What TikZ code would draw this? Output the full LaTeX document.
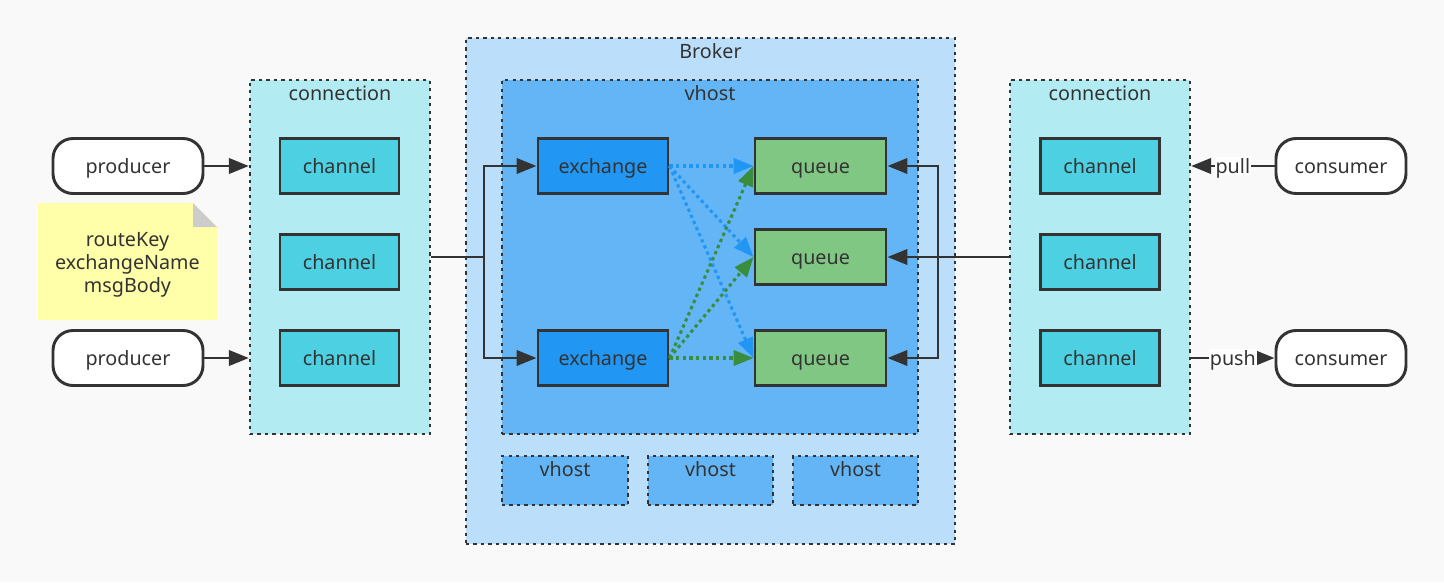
\documentclass[tikz,border=0pt]{standalone}
\usepackage{fontspec}
\setmainfont{Noto Sans}
\usetikzlibrary{arrows.meta,fit,calc}
\definecolor{bgc}{HTML}{F9F9F9}
\definecolor{dark}{HTML}{333333}
\definecolor{connc}{HTML}{B2EBF2}
\definecolor{chanc}{HTML}{4DD0E1}
\definecolor{brokc}{HTML}{BBDEFB}
\definecolor{vhostc}{HTML}{64B5F6}
\definecolor{exc}{HTML}{2196F3}
\definecolor{qc}{HTML}{81C784}
\definecolor{notec}{HTML}{FFFFAA}
\definecolor{foldc}{HTML}{CCCCCC}
\definecolor{greenc}{HTML}{388E3C}
\tikzset{
  container/.style={draw=dark, line width=1.7pt, dash pattern=on 2.4pt off 3.2pt, inner sep=0pt},
  boxbase/.style={draw=dark, line width=2.2pt, minimum height=41.25pt, inner sep=0pt, text height=1.2em, text depth=0.1em},
  chanbox/.style={boxbase, fill=chanc, minimum width=89.25pt},
  exbox/.style={boxbase, fill=exc, minimum width=97.5pt},
  qbox/.style={boxbase, fill=qc, minimum width=98.25pt},
  client/.style={boxbase, fill=white, rounded corners=15pt},
  ctitle/.style={anchor=base, inner sep=0pt},
  tip/.style={-{Triangle[length=15pt,width=11.5pt]}},
  arr/.style={draw=dark, line width=2.2pt, tip},
  dotblue/.style={draw=exc, line width=2.3pt, dash pattern=on 2.5pt off 2.5pt, tip},
  dotgreen/.style={draw=greenc, line width=2.3pt, dash pattern=on 2.5pt off 2.5pt, tip},
  elabel/.style={fill=white, inner sep=0.6pt, text height=1.2em, text depth=0.1em}
}
\begin{document}
\begin{tikzpicture}[x=0.75pt, y=-0.75pt, font=\fontsize{14.8}{17.25}\selectfont, text=dark]
\fill[bgc] (0,0) rectangle (1444,582);
\useasboundingbox (0,0) rectangle (1444,582);

% containers
\node[container, fill=connc, fit={(250,80) (430,434)}] (conn1) {};
\node[ctitle] (conn1t) at ([yshift=-16.3pt]conn1.north) {connection};
\node[container, fill=brokc, fit={(466,38) (955,544)}] (broker) {};
\node[ctitle] (brokert) at ([yshift=-16.3pt]broker.north) {Broker};
\node[container, fill=vhostc, fit={(502,80) (918,434)}] (vh) {};
\node[ctitle] (vht) at ([yshift=-16.3pt]vh.north) {vhost};
\node[container, fill=vhostc, fit={(502,456) (628,505)}] (vh1) {};
\node[ctitle] (vh1t) at ([yshift=-16.3pt]vh1.north) {vhost};
\node[container, fill=vhostc, fit={(648,456) (773,505)}] (vh2) {};
\node[ctitle] (vh2t) at ([yshift=-16.3pt]vh2.north) {vhost};
\node[container, fill=vhostc, fit={(793,456) (918,505)}] (vh3) {};
\node[ctitle] (vh3t) at ([yshift=-16.3pt]vh3.north) {vhost};
\node[container, fill=connc, fit={(1010,80) (1190,434)}] (conn2) {};
\node[ctitle] (conn2t) at ([yshift=-16.3pt]conn2.north) {connection};

% note
\fill[notec] (38,203) -- (193,203) -- (217,227) -- (217,320) -- (38,320) -- cycle;
\fill[foldc] (193,203) -- (217,227) -- (193,227) -- cycle;
\node[align=center, inner sep=0pt] (note) at (127.5,265) {routeKey\\exchangeName\\msgBody};

% clients
\node[client, minimum width=112.5pt] (p1) at (128,166) {producer};
\node[client, minimum width=112.5pt] (p2) at (128,358) {producer};
\node[client, minimum width=97.5pt] (c1) at (1341,166) {consumer};
\node[client, minimum width=97.5pt] (c2) at (1341,358) {consumer};

% channels
\node[chanbox] (ch1) at (339.5,166) {channel};
\node[chanbox] (ch2) at (339.5,262) {channel};
\node[chanbox] (ch3) at (339.5,358) {channel};
\node[chanbox] (ch4) at (1100,166) {channel};
\node[chanbox] (ch5) at (1100,262) {channel};
\node[chanbox] (ch6) at (1100,358) {channel};

% exchanges and queues
\node[exbox] (e1) at (603,166) {exchange};
\node[exbox] (e2) at (603,358) {exchange};
\node[qbox] (q1) at (820.5,166) {queue};
\node[qbox] (q2) at (820.5,257) {queue};
\node[qbox] (q3) at (820.5,358) {queue};

% producer -> connection
\draw[arr] (p1.east) -- (p1.east -| conn1.west);
\draw[arr] (p2.east) -- (p2.east -| conn1.west);

% connection -> exchanges
\coordinate (jl) at (484,257);
\draw[arr] (conn1.east) -- (jl) |- (e1.west);
\draw[arr] (jl) |- (e2.west);

% connection -> queues
\coordinate (jr) at (938,257);
\draw[arr] (conn2.west) -- (q2.east);
\draw[arr] (jr) |- (q1.east);
\draw[arr] (jr) |- (q3.east);

% bindings
\draw[dotblue] (e1.east) -- (q1.west);
\draw[dotblue] (e1.east) -- (q2.west);
\draw[dotblue] (e1.east) -- (q3.west);
\draw[dotgreen] (e2.east) -- (q1.west);
\draw[dotgreen] (e2.east) -- (q2.west);
\draw[dotgreen] (e2.east) -- (q3.west);

% consumers
\coordinate (pullend) at (c1.west -| conn2.east);
\coordinate (pushstart) at (c2.west -| conn2.east);
\draw[arr] (c1.west) -- node[elabel] (pulll) {pull} (pullend);
\draw[arr] (pushstart) -- node[elabel] (pushl) {push} (c2.west);
\end{tikzpicture}
\end{document}
